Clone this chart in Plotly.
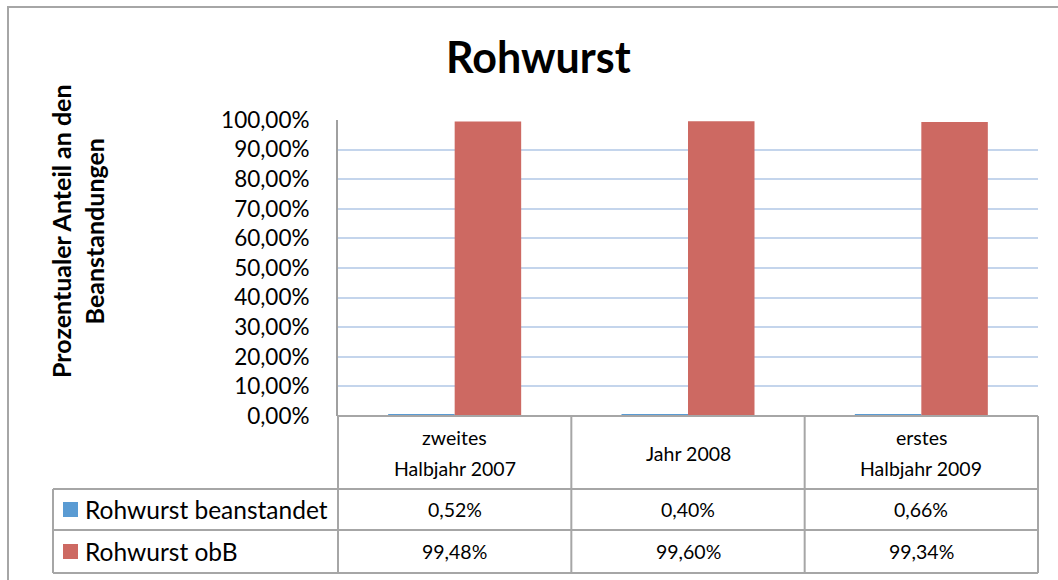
import plotly.graph_objects as go

categories = ["zweites<br>Halbjahr 2007", "Jahr 2008", "erstes<br>Halbjahr 2009"]
series_names = ["Rohwurst beanstandet", "Rohwurst obB"]
beanstandet = [0.0052, 0.0040, 0.0066]
obB = [0.9948, 0.9960, 0.9934]
series_values = [beanstandet, obB]
series_colors = ["#5a9bd3", "#cd6962"]
title_text = "Rohwurst"
y_title = "Prozentualer Anteil an den<br>Beanstandungen"

FONT = "Lato"
W, H = 1058, 580
L, R, T, B = 338, 20, 120, 164
PW, PH = W - L - R, H - T - B


def px(x):
    return (x - L) / PW


def py(y):
    return (H - B - y) / PH


fig = go.Figure()
x_idx = list(range(len(categories)))
for name, vals, col in zip(series_names, series_values, series_colors):
    fig.add_trace(go.Bar(x=x_idx, y=vals, name=name, marker=dict(color=col, line=dict(width=0))))

fig.update_layout(
    width=W, height=H,
    margin=dict(l=L, r=R, t=T, b=B),
    paper_bgcolor="white", plot_bgcolor="white",
    separators=",.",
    showlegend=False,
    barmode="group", bargap=0.43, bargroupgap=0,
    font=dict(family=FONT, color="black"),
)
fig.update_xaxes(range=[-0.5, len(categories) - 0.5], showticklabels=False, showgrid=False,
                 zeroline=False, showline=False, ticks="")
fig.update_yaxes(range=[0, 1], dtick=0.1, tickformat=".2%", showgrid=True, gridcolor="#c4d5ec",
                 gridwidth=2, zeroline=False, showline=True, linecolor="#a0a0a0", linewidth=2,
                 ticks="", ticklabelstandoff=22, tickfont=dict(size=22.5, family=FONT, color="black"))

shapes = []
line = dict(color="#a6a6a6", width=2)
# outer chart border
shapes.append(dict(type="rect", xref="paper", yref="paper", x0=px(8), x1=px(1075), y0=py(7), y1=py(600),
                   line=line, layer="below"))
# table lines
col_edges = [338 + i * PW / len(categories) for i in range(len(categories) + 1)]
row_y = [416, 489, 530, 573]
label_left = 53
shapes.append(dict(type="line", xref="paper", yref="paper", x0=px(338), x1=px(1038), y0=py(416), y1=py(416), line=line))
for yy in row_y[1:]:
    shapes.append(dict(type="line", xref="paper", yref="paper", x0=px(label_left), x1=px(1038), y0=py(yy), y1=py(yy), line=line))
for xx in col_edges:
    shapes.append(dict(type="line", xref="paper", yref="paper", x0=px(xx), x1=px(xx), y0=py(416), y1=py(573), line=line))
shapes.append(dict(type="line", xref="paper", yref="paper", x0=px(label_left), x1=px(label_left), y0=py(489), y1=py(573), line=line))

annotations = []
# title
annotations.append(dict(text="<b>%s</b>" % title_text, xref="paper", yref="paper", x=px(538), y=py(57),
                        showarrow=False, font=dict(size=43, family=FONT, color="black"),
                        xanchor="center", yanchor="middle"))
# y title
annotations.append(dict(text="<b>%s</b>" % y_title, xref="paper", yref="paper", x=px(77), y=py(231),
                        showarrow=False, textangle=-90, font=dict(size=25, family=FONT, color="black"),
                        xanchor="center", yanchor="middle"))
# header categories (each line placed separately for Excel-like line spacing)
for i, c in enumerate(categories):
    cx = (col_edges[i] + col_edges[i + 1]) / 2
    parts = c.split("<br>")
    n = len(parts)
    for k, part in enumerate(parts):
        yy = 453 + (k - (n - 1) / 2) * 32
        annotations.append(dict(text=part, xref="paper", yref="paper", x=px(cx), y=py(yy), showarrow=False,
                                font=dict(size=19.5, family=FONT, color="black"), xanchor="center", yanchor="middle"))
# rows
for r, (name, vals, col) in enumerate(zip(series_names, series_values, series_colors)):
    yc = (row_y[r + 1] + row_y[r + 2]) / 2
    shapes.append(dict(type="rect", xref="paper", yref="paper", x0=px(63), x1=px(78), y0=py(yc - 7.5), y1=py(yc + 7.5),
                       fillcolor=col, line=dict(width=0)))
    annotations.append(dict(text=name, xref="paper", yref="paper", x=px(83), y=py(yc), showarrow=False,
                            font=dict(size=24.5, family=FONT, color="black"), xanchor="left", yanchor="middle"))
    for i, v in enumerate(vals):
        cx = (col_edges[i] + col_edges[i + 1]) / 2
        annotations.append(dict(text=("%.2f%%" % (v * 100)).replace(".", ","), xref="paper", yref="paper",
                                x=px(cx), y=py(yc), showarrow=False,
                                font=dict(size=19.5, family=FONT, color="black"), xanchor="center", yanchor="middle"))

fig.update_layout(shapes=shapes, annotations=annotations)
fig.write_html("out.html", config={"displayModeBar": False},
               post_script="document.body.style.margin='0';document.body.style.padding='0';document.documentElement.style.overflow='hidden';")
